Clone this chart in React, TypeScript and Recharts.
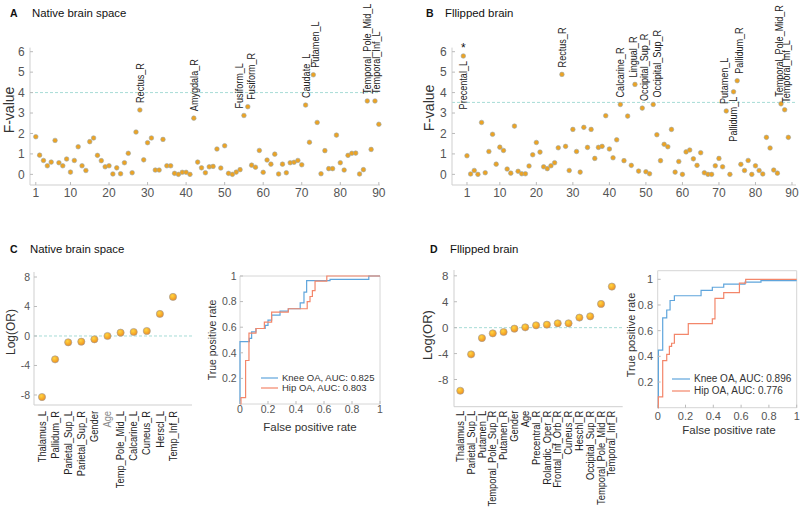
import React from 'react';
import { ScatterChart, Scatter, XAxis, YAxis, ReferenceLine, ReferenceArea, LineChart, Line, Legend } from 'recharts';

const FONT = '"Liberation Sans", Arial, Helvetica, sans-serif';

// A: native brain space, F-value per region 1..90
const nativeF = [
  1.84, 0.94, 0.68, 0.42, 0.6, 1.66, 0.57, 0.42, 0.75, 0.11,
  0.68, 1.35, 0.42, 0.19, 1.6, 1.78, 0.93, 0.67, 0.37, 0.42,
  0.02, 0.32, 0.03, 0.57, 1.03, 0.08, 2.07, 3.15, 0.71, 1.55,
  1.78, 0.21, 0.21, 1.71, 0.42, 0.42, 0.05, 0.0, 0.1, 0.1,
  0.0, 2.75, 0.6, 0.32, 0.08, 0.37, 0.39, 1.24, 0.31, 1.4,
  0.05, 0.0, 0.11, 0.23, 2.88, 3.31, 0.45, 0.35, 1.17, 0.1,
  0.7, 0.5, 0.99, 0.02, 0.5, 0.08, 0.57, 0.59, 0.68, 0.47,
  3.39, 1.57, 4.87, 2.54, 0.03, 1.16, 0.28, 0.28, 1.92, 0.57,
  0.21, 0.93, 1.03, 1.04, 0.02, 0.23, 3.59, 1.22, 3.59, 2.45,
];
const nativeLabels: [number, string][] = [
  [28, 'Rectus_R'], [42, 'Amygdala_R'], [55, 'Fusiform_L'], [56, 'Fusiform_R'],
  [71, 'Caudate_L'], [73, 'Putamen_L'], [87, 'Temporal_Pole_Mid_L'], [89, 'Temporal_Inf_L'],
];

// B: flipped brain, plotted from 0
const flippedF = [
  5.79, 0.91, 0.02, 0.19, 0.0, 2.54, 0.08, 1.12, 1.96, 0.5,
  1.33, 1.17, 0.26, 0.06, 2.36, 0.15, 0.03, 0.03, 0.41, 0.96,
  1.56, 1.09, 0.37, 0.28, 0.42, 0.57, 1.3, 4.89, 1.37, 0.19,
  2.2, 1.12, 0.11, 2.3, 1.32, 2.2, 0.78, 1.32, 1.37, 2.87,
  1.24, 0.81, 1.69, 3.42, 0.67, 2.85, 0.44, 4.4, 0.16, 3.24,
  0.13, 0.03, 3.42, 1.94, 0.67, 1.47, 1.35, 2.2, 0.11, 0.63,
  0.0, 1.1, 1.19, 0.76, 0.44, 1.06, 0.08, 0.0, 0.0, 0.42,
  0.78, 0.37, 3.1, 0.0, 4.04, 4.58, 0.49, 0.19, 0.68, 0.0,
  0.42, 0.19, 0.02, 1.81, 1.29, 0.21, 0.06, 3.45, 3.16, 1.81,
];
const flippedLabels: [number, string][] = [
  [0, 'Precental_L'], [27, 'Rectus_R'], [43, 'Calcarine_R'], [47, 'Lingual_R'],
  [49, 'Occipital_Sup_R'], [52, 'Occipital_Sup_R'], [72, 'Putamen_L'], [74, 'Pallidum_L'],
  [75, 'Pallidum_R'], [87, 'Temporal_Pole_Mid_R'], [88, 'Temporal_Inf_L'],
];
const flippedBelow = [0, 74];
const flippedStar = [0];

const regionTicks = [1, 10, 20, 30, 40, 50, 60, 70, 80, 90];
const fTicks = [0, 1, 2, 3, 4, 5, 6];
const nativeThreshold = 4;
const flippedThreshold = 3.52;

// C / D: log odds ratios
const nativeNames = ['Thalamus_L', 'Pallidum_R', 'Parietal_Sup_L', 'Parietal_Sup_R', 'Gender', 'Age',
  'Temp_Pole_Mid_L', 'Calcarine_L', 'Cuneus_R', 'Herscl_L', 'Temp_Inf_R'];
const nativeLogOR = [-8.28, -3.17, -0.86, -0.77, -0.45, 0.0, 0.45, 0.54, 0.68, 2.99, 5.3];
const flippedNames = ['Thalamus_L', 'Parietal_Sup_L', 'Putamen_L', 'Temporal_Pole_Sup_R', 'Putamen_R',
  'Gender', 'Age', 'Precentral_R', 'Rolandic_Oper_R', 'Frontal_Inf_Orb_R', 'Cuneus_R', 'Heschl_R',
  'Occipital_Sup_R', 'Temporal_Pole_Mid_R', 'Temporal_Inf_R'];
const flippedLogOR = [-9.74, -4.12, -1.6, -0.88, -0.67, -0.15, 0.05, 0.36, 0.46, 0.67, 0.67, 1.55, 1.75, 3.66, 6.34];
const orTicks = [-8, -4, 0, 4, 8];

// ROC step corners (fpr, tpr)
const kneeNativeFpr = [0, 0, 0.067, 0.083, 0.114, 0.18, 0.2, 0.226, 0.286, 0.345, 0.43, 0.457, 0.476, 0.643, 0.92, 1];
const kneeNativeTpr = [0, 0.487, 0.513, 0.564, 0.59, 0.615, 0.656, 0.695, 0.726, 0.744, 0.79, 0.874, 0.964, 0.974, 1, 1];
const hipNativeFpr = [0, 0.007, 0.04, 0.064, 0.114, 0.174, 0.226, 0.345, 0.48, 0.5, 0.517, 0.536, 0.62, 1];
const hipNativeTpr = [0, 0.05, 0.34, 0.554, 0.59, 0.64, 0.718, 0.744, 0.8, 0.84, 0.885, 0.96, 1, 1];
const kneeFlipFpr = [0, 0.005, 0.036, 0.065, 0.089, 0.12, 0.312, 0.393, 0.475, 0.628, 0.743, 1];
const kneeFlipTpr = [0, 0.448, 0.7, 0.761, 0.835, 0.872, 0.914, 0.938, 0.963, 0.978, 0.99, 0.99];
const hipFlipFpr = [0, 0.005, 0.036, 0.065, 0.084, 0.1, 0.12, 0.22, 0.393, 0.412, 0.475, 0.588, 0.633, 1];
const hipFlipTpr = [0, 0.084, 0.367, 0.416, 0.478, 0.502, 0.571, 0.655, 0.692, 0.852, 0.897, 0.97, 1, 1];
const rateTicksX = [0, 0.2, 0.4, 0.6, 0.8, 1];
const rateTicksY = [0.2, 0.4, 0.6, 0.8, 1];

// sideways nudges so neighbouring labels don't collide (layout only)
const labelNudge: Record<string, number> = {
  'A:55': -5, 'A:56': 3, 'A:73': 1.3, 'A:89': 1,
  'B:47': -2, 'B:49': 1.7, 'B:52': 4, 'B:72': -2, 'B:75': 2, 'B:87': -2, 'B:88': 1.3,
};

const toPoints = (panel: string, vals: number[], start: number, labels: [number, string][], below: number[] = [], star: number[] = []) =>
  vals.map((v, i) => {
    const x = i + start;
    const lab = labels.find((l) => l[0] === x);
    return { x, y: v, label: lab ? lab[1] : undefined, nudge: labelNudge[`${panel}:${x}`] || 0, below: below.includes(x), star: star.includes(x) };
  });

const zip = (a: number[], b: number[]) => a.map((fpr, i) => ({ fpr, tpr: b[i] }));

const nativeData = toPoints('A', nativeF, 1, nativeLabels);
const flippedData = toPoints('B', flippedF, 0, flippedLabels, flippedBelow, flippedStar);
const nativeOR = nativeLogOR.map((y, i) => ({ x: i + 1, y }));
const flippedOR = flippedLogOR.map((y, i) => ({ x: i + 1, y }));

const AXIS = '#cfcfcf';
const TICK = '#555';
const DASH = '#a6dcd6';
const KNEE = '#5fa5dc';
const HIP = '#f3866a';

const FDot = (props: any) => {
  const { cx, cy, payload } = props;
  const lx = cx + 3.9 + payload.nudge;
  return (
    <g>
      <circle cx={cx} cy={cy} r={2.3} fill="#eca324" stroke="#9aa8aa" strokeWidth={0.6} />
      {payload.label && (
        <text
          transform={`translate(${lx},${payload.below ? cy + 5 : cy - 7}) rotate(-90) scale(0.84,1)`}
          textAnchor={payload.below ? 'end' : 'start'}
          fontSize={10.8}
          fontFamily={FONT}
          fill="#222"
        >
          {payload.label}
        </text>
      )}
      {payload.star && (
        <text x={cx} y={cy - 3.5} textAnchor="middle" fontSize={12} fontFamily={FONT} fill="#111">*</text>
      )}
    </g>
  );
};

const OrDot = (props: any) => (
  <circle cx={props.cx} cy={props.cy} r={3.6} fill="url(#orGrad)" stroke="#9c9c9c" strokeWidth={0.6} />
);

const catTick = (names: string[], gray: string[], dy: number) => (props: any) => {
  const { x, y, payload } = props;
  const name = names[payload.value - 1];
  return (
    <text
      transform={`translate(${x + 3.6},${y + dy}) rotate(-90) scale(0.88,1)`}
      textAnchor="end"
      fontSize={10.6}
      fontFamily={FONT}
      fill={gray.includes(name) ? '#8a8a8a' : '#222'}
    >
      {name}
    </text>
  );
};

const RocLegend = ({ payload, order, fontSize, rowH, lineW }: any) => {
  const items = [...(payload || [])].sort((a: any, b: any) => order.indexOf(a.value) - order.indexOf(b.value));
  return (
    <div style={{ fontFamily: FONT, fontSize, color: '#333' }}>
      {items.map((p: any) => (
        <div key={p.value} style={{ display: 'flex', alignItems: 'center', height: rowH, whiteSpace: 'nowrap' }}>
          <svg width={lineW} height={4} style={{ display: 'block' }}>
            <line x1={0} y1={2} x2={lineW} y2={2} stroke={p.color} strokeWidth={1.2} />
          </svg>
          <span style={{ marginLeft: 4 }}>{p.value}</span>
        </div>
      ))}
    </div>
  );
};

const gradDefs = (
  <defs>
    <radialGradient id="orGrad" cx="40%" cy="35%" r="70%">
      <stop offset="0%" stopColor="#ffd640" />
      <stop offset="100%" stopColor="#ef8a1c" />
    </radialGradient>
  </defs>
);

function FPanel({ data, threshold, left, width, yWidth, right, xDomain }: any) {
  return (
    <div style={{ position: 'absolute', left, top: 0 }}>
      <ScatterChart width={width} height={205} margin={{ top: 47.6, right, bottom: 0, left: 0 }}>
        <XAxis
          type="number"
          dataKey="x"
          domain={xDomain}
          ticks={regionTicks}
          interval={0}
          height={20}
          axisLine={{ stroke: AXIS }}
          tickLine={{ stroke: '#bbb' }}
          tickSize={-3}
          tickMargin={6.4}
          tick={{ fill: TICK, fontSize: 12, fontFamily: FONT }}
        />
        <YAxis
          type="number"
          dataKey="y"
          domain={[-0.52, 6.2]}
          ticks={fTicks}
          interval={0}
          width={yWidth}
          axisLine={{ stroke: AXIS }}
          tickLine={{ stroke: '#bbb' }}
          tickSize={-3}
          tickMargin={8.2}
          tick={{ fill: TICK, fontSize: 12, fontFamily: FONT }}
        />
        <ReferenceLine y={threshold} stroke={DASH} strokeDasharray="3 2" strokeWidth={1} />
        <Scatter data={data} shape={FDot} isAnimationActive={false} />
      </ScatterChart>
    </div>
  );
}

function OrPanel({ data, names, gray, left, width, yWidth, right, top, bottom, xDomain, yDomain, tickFont, tickMargin, dy }: any) {
  return (
    <div style={{ position: 'absolute', left, top: 260 }}>
      <ScatterChart width={width} height={253} margin={{ top, right, bottom, left: 0 }}>
        {gradDefs}
        <XAxis
          type="number"
          dataKey="x"
          domain={xDomain}
          ticks={names.map((_: string, i: number) => i + 1)}
          interval={0}
          height={100}
          axisLine={{ stroke: AXIS }}
          tickLine={false}
          tickSize={0}
          tickMargin={0}
          tick={catTick(names, gray, dy)}
        />
        <YAxis
          type="number"
          dataKey="y"
          domain={yDomain}
          ticks={orTicks}
          interval={0}
          width={yWidth}
          axisLine={{ stroke: AXIS }}
          tickLine={{ stroke: '#bbb' }}
          tickSize={-3}
          tickMargin={tickMargin}
          tick={{ fill: TICK, fontSize: tickFont, fontFamily: FONT }}
        />
        <ReferenceLine y={0} stroke={DASH} strokeDasharray="3 2" strokeWidth={1} />
        <Scatter data={data} shape={OrDot} isAnimationActive={false} />
      </ScatterChart>
    </div>
  );
}

function RocPanel({ knee, hip, kneeName, hipName, left, width, yWidth, right, top, bottom, xHeight, yMax, tickFont, yMargin, xMargin, legend }: any) {
  return (
    <div style={{ position: 'absolute', left, top: 260 }}>
      <LineChart width={width} height={190} margin={{ top, right, bottom, left: 0 }}>
        <XAxis
          type="number"
          dataKey="fpr"
          domain={[0, 1]}
          ticks={rateTicksX}
          interval={0}
          height={xHeight}
          axisLine={false}
          tickLine={{ stroke: '#bbb' }}
          tickSize={-3}
          tickMargin={xMargin}
          tick={{ fill: TICK, fontSize: tickFont, fontFamily: FONT }}
        />
        <YAxis
          type="number"
          domain={[0, yMax]}
          ticks={rateTicksY}
          interval={0}
          width={yWidth}
          axisLine={false}
          tickLine={{ stroke: '#bbb' }}
          tickSize={-3}
          tickMargin={yMargin}
          tick={{ fill: TICK, fontSize: tickFont, fontFamily: FONT }}
        />
        <ReferenceArea x1={0} x2={1} y1={0} y2={yMax} fill="none" stroke="#d6d6d6" strokeWidth={1} />
        <Line data={knee} dataKey="tpr" name={kneeName} type="stepAfter" stroke={KNEE} strokeWidth={1.2} dot={false} isAnimationActive={false} />
        <Line data={hip} dataKey="tpr" name={hipName} type="stepAfter" stroke={HIP} strokeWidth={1.2} dot={false} isAnimationActive={false} />
        <Legend
          layout="horizontal"
          verticalAlign="middle"
          align="center"
          wrapperStyle={{ left: legend.left, top: legend.top, width: 'auto', height: 'auto' }}
          content={(p: any) => (
            <RocLegend payload={p.payload} order={[kneeName, hipName]} fontSize={legend.font} rowH={legend.rowH} lineW={legend.lineW} />
          )}
        />
      </LineChart>
    </div>
  );
}

export default function App() {
  const t = { fontFamily: FONT };
  return (
    <div style={{ position: 'absolute', left: 0, top: 0, width: 800, height: 513, background: '#fff', overflow: 'hidden' }}>
      <FPanel data={nativeData} threshold={nativeThreshold} left={0} width={390} yWidth={30} right={10} xDomain={[-0.5, 90.3]} />
      <FPanel data={flippedData} threshold={flippedThreshold} left={400} width={400} yWidth={52} right={4} xDomain={[-3.1, 91.1]} />

      <OrPanel data={nativeOR} names={nativeNames} gray={['Age']} left={0} width={200} yWidth={34} right={8}
        top={12} bottom={8} xDomain={[0.39, 12.45]} yDomain={[-9.36, 8.68]} tickFont={10.5} tickMargin={7} dy={6} />
      <OrPanel data={flippedOR} names={flippedNames} gray={[]} left={400} width={230} yWidth={54} right={7.3}
        top={10} bottom={6.3} xDomain={[0.42, 16]} yDomain={[-12.2, 8.9]} tickFont={11.5} tickMargin={8.7} dy={4} />

      <RocPanel knee={zip(kneeNativeFpr, kneeNativeTpr)} hip={zip(hipNativeFpr, hipNativeTpr)}
        kneeName="Knee OA, AUC: 0.825" hipName="Hip OA, AUC: 0.803"
        left={200} width={190} yWidth={40} right={10} top={16} bottom={22} xHeight={24} yMax={1}
        tickFont={10.5} yMargin={6.3} xMargin={5}
        legend={{ left: 61, top: 112.5, font: 9.5, rowH: 10.3, lineW: 17 }} />
      <RocPanel knee={zip(kneeFlipFpr, kneeFlipTpr)} hip={zip(hipFlipFpr, hipFlipTpr)}
        kneeName="Knee OA, AUC: 0.896" hipName="Hip OA, AUC: 0.776"
        left={630} width={170} yWidth={27.7} right={3.3} top={10.7} bottom={20.3} xHeight={22} yMax={1.067}
        tickFont={11} yMargin={7.7} xMargin={7.3}
        legend={{ left: 41.7, top: 113.1, font: 10, rowH: 11.7, lineW: 18.3 }} />

      <svg width={800} height={513} style={{ position: 'absolute', left: 0, top: 0, pointerEvents: 'none' }}>
        <g style={t} fill="#111">
          <text x={10} y={17} fontSize={10.5} fontWeight="bold">A</text>
          <text x={32} y={17} fontSize={11.4}>Native brain space</text>
          <text x={426} y={17} fontSize={10.5} fontWeight="bold">B</text>
          <text x={445} y={17} fontSize={11.4}>Fllipped brain</text>
          <text x={10} y={253} fontSize={10.5} fontWeight="bold">C</text>
          <text x={30} y={253} fontSize={11.4}>Native brain space</text>
          <text x={430} y={253} fontSize={10.5} fontWeight="bold">D</text>
          <text x={450} y={253} fontSize={11.4}>Fllipped brain</text>
        </g>
        <g style={t} fill="#333" textAnchor="middle">
          <text transform="translate(13.5,110) rotate(-90)" fontSize={14}>F-value</text>
          <text transform="translate(433.5,108) rotate(-90)" fontSize={14}>F-value</text>
          <text transform="translate(14.5,332) rotate(-90)" fontSize={12}>Log(OR)</text>
          <text transform="translate(432,335) rotate(-90)" fontSize={13}>Log(OR)</text>
          <text transform="translate(216,340) rotate(-90)" fontSize={10.5}>True positive rate</text>
          <text transform="translate(635,335) rotate(-90)" fontSize={11}>True positive rate</text>
          <text x={310} y={431} fontSize={11.5}>False positive rate</text>
          <text x={729} y={434} fontSize={11.5}>False positive rate</text>
        </g>
      </svg>
    </div>
  );
}
